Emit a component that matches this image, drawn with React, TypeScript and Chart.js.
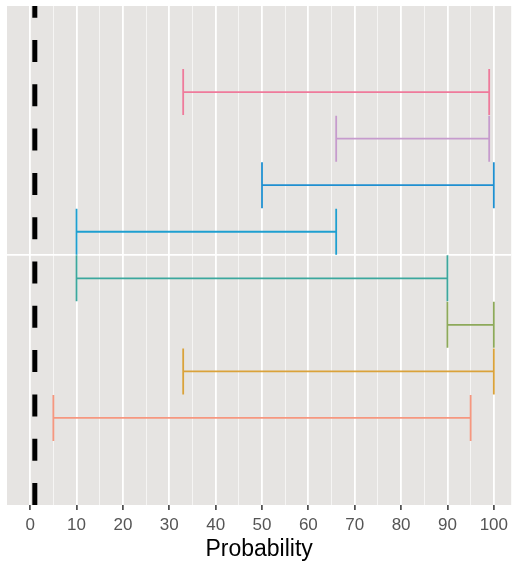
import React, { useEffect, useRef } from "react";
import { Chart, registerables } from "chart.js";

Chart.register(...registerables);

// Data
const ROWS = [1, 2, 3, 4, 5, 6, 7, 8];
const LOWER = [5, 33, 90, 10, 10, 50, 66, 33];
const UPPER = [95, 100, 100, 90, 66, 100, 99, 99];
const COLORS = ["#F6977F", "#DAA23A", "#8DA95A", "#3CA79D", "#1E9FD0", "#1F8FD0", "#C69BCD", "#EF7A9B"];
const REFERENCE_X = 1;
const X_TICKS = [0, 10, 20, 30, 40, 50, 60, 70, 80, 90, 100];
const X_MINOR = [5, 15, 25, 35, 45, 55, 65, 75, 85, 95];
const Y_GRID = [4.5];
const X_MIN = -5;
const X_MAX = 103.75;
const Y_MIN = -0.87;
const Y_MAX = 9.85;

const panelBg = {
  id: "panelBg",
  beforeDraw(chart: any) {
    const { ctx, chartArea } = chart;
    ctx.save();
    ctx.fillStyle = "#E6E4E2";
    ctx.fillRect(chartArea.left, chartArea.top, chartArea.right - chartArea.left, chartArea.bottom - chartArea.top);
    ctx.restore();
  },
};

export default function App() {
  const ref = useRef<HTMLCanvasElement | null>(null);
  useEffect(() => {
    if (!ref.current) return;
    const datasets: any[] = ROWS.map((r, i) => ({
      data: [
        { x: LOWER[i], y: r },
        { x: UPPER[i], y: r },
      ],
      showLine: true,
      borderColor: COLORS[i],
      borderWidth: 1.8,
      pointStyle: "line",
      rotation: 90,
      pointRadius: 23,
      pointHoverRadius: 23,
      pointBorderColor: COLORS[i],
      pointBorderWidth: 1.8,
      order: 1,
    }));
    datasets.push({
      data: [
        { x: REFERENCE_X, y: Y_MIN },
        { x: REFERENCE_X, y: Y_MAX },
      ],
      showLine: true,
      borderColor: "#000000",
      borderWidth: 5,
      borderDash: [22, 22.3],
      borderCapStyle: "butt",
      pointRadius: 0,
      order: 2,
    });
    const chart = new Chart(ref.current, {
      type: "scatter",
      data: { datasets },
      plugins: [panelBg],
      options: {
        animation: false,
        responsive: false,
        devicePixelRatio: 1,
        layout: { autoPadding: false, padding: { left: 7, top: 6, right: 0, bottom: 0 } },
        plugins: { legend: { display: false }, tooltip: { enabled: false } },
        scales: {
          x: {
            type: "linear",
            min: X_MIN,
            max: X_MAX,
            afterBuildTicks: (scale: any) => {
              scale.ticks = [...X_TICKS, ...X_MINOR].sort((a, b) => a - b).map((v) => ({ value: v }));
            },
            afterFit: (scale: any) => {
              scale.height = 65;
            },
            border: { display: false },
            grid: {
              color: (c: any) => (X_TICKS.includes(c.tick?.value) ? "#FFFFFF" : "#F6F5F4"),
              lineWidth: (c: any) => (X_TICKS.includes(c.tick?.value) ? 1.8 : 1),
              tickColor: (c: any) => (X_TICKS.includes(c.tick?.value) ? "#333333" : "rgba(0,0,0,0)"),
              tickWidth: 1.5,
              tickLength: 5,
              drawTicks: true,
            },
            ticks: {
              autoSkip: false,
              maxRotation: 0,
              minRotation: 0,
              padding: 5,
              color: "#555555",
              font: { family: "'Liberation Sans', Arial, sans-serif", size: 17 },
              callback: (v: any) => (X_TICKS.includes(Number(v)) ? String(v) : ""),
            },
            title: {
              display: true,
              text: "Probability",
              color: "#000000",
              font: { family: "'Liberation Sans', Arial, sans-serif", size: 23 },
              padding: { top: 0, bottom: 7 },
            },
          },
          y: {
            type: "linear",
            min: Y_MIN,
            max: Y_MAX,
            afterBuildTicks: (scale: any) => {
              scale.ticks = Y_GRID.map((v) => ({ value: v }));
            },
            afterFit: (scale: any) => {
              scale.width = 0;
            },
            border: { display: false },
            grid: { color: "#FFFFFF", lineWidth: 1.8, drawTicks: false },
            ticks: { display: false },
          },
        },
      },
    });
    return () => chart.destroy();
  }, []);
  return (
    <canvas
      ref={ref}
      width={513}
      height={570}
      style={{ position: "absolute", left: 0, top: 0, width: 513, height: 570 }}
    />
  );
}
